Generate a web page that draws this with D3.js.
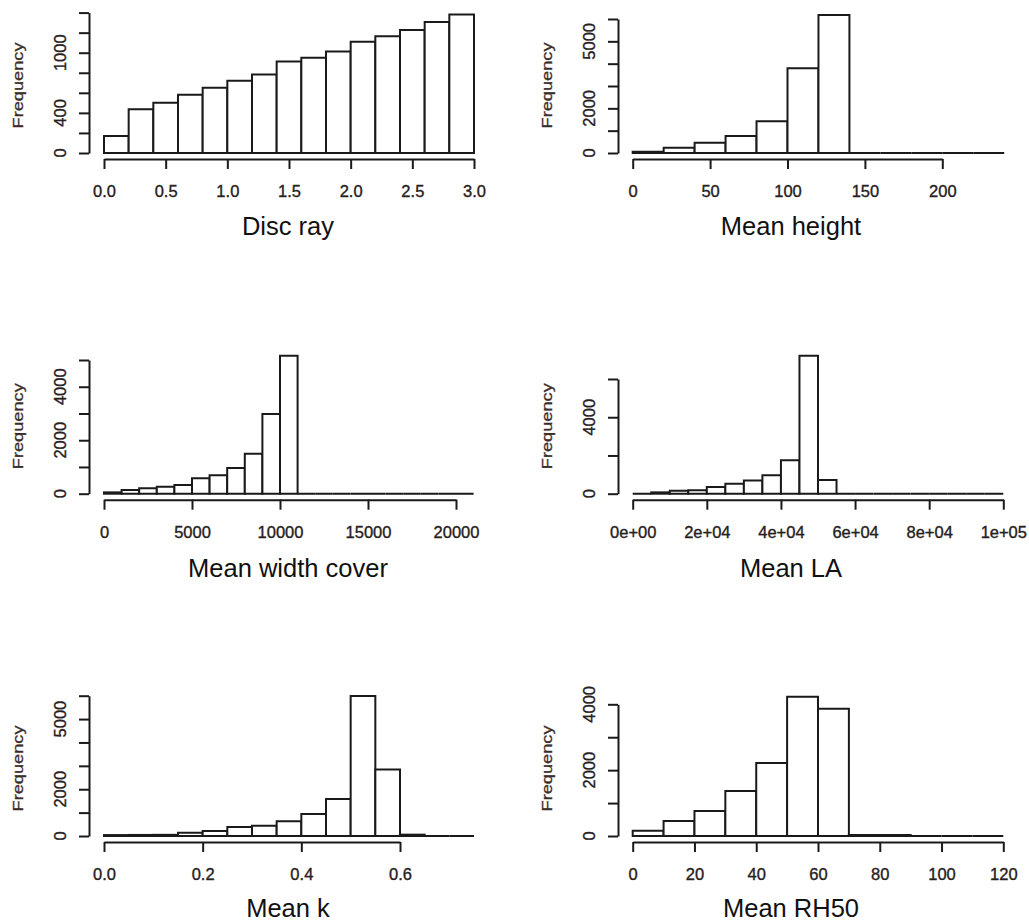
<!DOCTYPE html>
<html>
<head>
<meta charset="utf-8">
<script src="https://cdn.jsdelivr.net/npm/d3@7"></script>
<style>
  html, body { margin: 0; padding: 0; background: #fff; }
  svg { display: block; }
  text { font-family: "Liberation Sans", Arial, sans-serif; }
</style>
</head>
<body>
<svg id="chart" width="1029" height="921"></svg>
<script>
// ---------------- DATA ----------------
// Disc ray
const discRayBreaks = [0, 0.2, 0.4, 0.6, 0.8, 1.0, 1.2, 1.4, 1.6, 1.8, 2.0, 2.2, 2.4, 2.6, 2.8, 3.0];
const discRayCounts = [170, 437, 500, 580, 650, 720, 783, 913, 950, 1013, 1110, 1163, 1227, 1307, 1380];
const discRayXTicks = [0, 0.5, 1.0, 1.5, 2.0, 2.5, 3.0];
const discRayXLabels = ["0.0", "0.5", "1.0", "1.5", "2.0", "2.5", "3.0"];
const discRayYTicks = [0, 200, 400, 600, 800, 1000, 1200, 1400];
const discRayYLabels = ["0", "", "400", "", "", "1000", "", ""];

// Mean height
const meanHeightBreaks = [0, 20, 40, 60, 80, 100, 120, 140, 160, 180, 200, 220, 240];
const meanHeightCounts = [60, 240, 460, 760, 1420, 3790, 6180, 0, 0, 0, 0, 0];
const meanHeightXTicks = [0, 50, 100, 150, 200];
const meanHeightXLabels = ["0", "50", "100", "150", "200"];
const meanHeightYTicks = [0, 1000, 2000, 3000, 4000, 5000, 6000];
const meanHeightYLabels = ["0", "", "2000", "", "", "5000", ""];

// Mean width cover
const meanWidthBreaks = [0, 1000, 2000, 3000, 4000, 5000, 6000, 7000, 8000, 9000, 10000,
  11000, 12000, 13000, 14000, 15000, 16000, 17000, 18000, 19000, 20000, 21000];
const meanWidthCounts = [50, 137, 200, 262, 324, 574, 686, 960, 1496, 2980, 5162,
  0, 0, 0, 0, 0, 0, 0, 0, 0, 0];
const meanWidthXTicks = [0, 5000, 10000, 15000, 20000];
const meanWidthXLabels = ["0", "5000", "10000", "15000", "20000"];
const meanWidthYTicks = [0, 1000, 2000, 3000, 4000, 5000];
const meanWidthYLabels = ["0", "", "2000", "", "4000", ""];

// Mean LA
const meanLABreaks = [0, 5000, 10000, 15000, 20000, 25000, 30000, 35000, 40000, 45000, 50000,
  55000, 60000, 65000, 70000, 75000, 80000, 85000, 90000, 95000, 100000];
const meanLACounts = [0, 70, 157, 174, 349, 523, 697, 959, 1744, 7220, 715,
  0, 0, 0, 0, 0, 0, 0, 0, 0];
const meanLAXTicks = [0, 20000, 40000, 60000, 80000, 100000];
const meanLAXLabels = ["0e+00", "2e+04", "4e+04", "6e+04", "8e+04", "1e+05"];
const meanLAYTicks = [0, 2000, 4000, 6000];
const meanLAYLabels = ["0", "", "4000", ""];

// Mean k
const meanKBreaks = [0, 0.05, 0.10, 0.15, 0.20, 0.25, 0.30, 0.35, 0.40, 0.45, 0.50, 0.55, 0.60, 0.65, 0.70, 0.75];
const meanKCounts = [40, 45, 50, 142, 214, 385, 442, 627, 940, 1581, 5988, 2849, 57, 0, 0];
const meanKXTicks = [0, 0.2, 0.4, 0.6];
const meanKXLabels = ["0.0", "0.2", "0.4", "0.6"];
const meanKYTicks = [0, 1000, 2000, 3000, 4000, 5000, 6000];
const meanKYLabels = ["0", "", "2000", "", "", "5000", ""];

// Mean RH50
const meanRH50Breaks = [0, 10, 20, 30, 40, 50, 60, 70, 80, 90, 100, 110, 120];
const meanRH50Counts = [162, 456, 760, 1367, 2218, 4233, 3868, 30, 30, 0, 0, 0];
const meanRH50XTicks = [0, 20, 40, 60, 80, 100, 120];
const meanRH50XLabels = ["0", "20", "40", "60", "80", "100", "120"];
const meanRH50YTicks = [0, 1000, 2000, 3000, 4000];
const meanRH50YLabels = ["0", "", "2000", "", "4000"];

const panelTitles = ["Disc ray", "Mean height", "Mean width cover", "Mean LA", "Mean k", "Mean RH50"];
const yTitle = "Frequency";

// ---------------- LAYOUT ----------------
const panels = [
  { breaks: discRayBreaks, counts: discRayCounts, xt: discRayXTicks, xl: discRayXLabels, yt: discRayYTicks, yl: discRayYLabels,
    xd: [0, 3], xr: [104, 474], yd: [0, 1400], yr: [153, 12.6], col: 0, base: 153, titleY: 235 },
  { breaks: meanHeightBreaks, counts: meanHeightCounts, xt: meanHeightXTicks, xl: meanHeightXLabels, yt: meanHeightYTicks, yl: meanHeightYLabels,
    xd: [0, 200], xr: [632.7, 942.3], yd: [0, 6000], yr: [153, 19], col: 1, base: 153, titleY: 235 },
  { breaks: meanWidthBreaks, counts: meanWidthCounts, xt: meanWidthXTicks, xl: meanWidthXLabels, yt: meanWidthYTicks, yl: meanWidthYLabels,
    xd: [0, 20000], xr: [104, 456], yd: [0, 5000], yr: [493.7, 360], col: 0, base: 493.7, titleY: 577 },
  { breaks: meanLABreaks, counts: meanLACounts, xt: meanLAXTicks, xl: meanLAXLabels, yt: meanLAYTicks, yl: meanLAYLabels,
    xd: [0, 100000], xr: [632.7, 1003.3], yd: [0, 6000], yr: [493.7, 379], col: 1, base: 493.7, titleY: 577 },
  { breaks: meanKBreaks, counts: meanKCounts, xt: meanKXTicks, xl: meanKXLabels, yt: meanKYTicks, yl: meanKYLabels,
    xd: [0, 0.6], xr: [104, 400], yd: [0, 6000], yr: [836, 695.7], col: 0, base: 836, titleY: 917 },
  { breaks: meanRH50Breaks, counts: meanRH50Counts, xt: meanRH50XTicks, xl: meanRH50XLabels, yt: meanRH50YTicks, yl: meanRH50YLabels,
    xd: [0, 120], xr: [632.7, 1003.3], yd: [0, 4000], yr: [836, 704.3], col: 1, base: 836, titleY: 917 }
];

const colInfo = [
  { yAxisX: 89, titleX: 288, freqX: 23 },
  { yAxisX: 618, titleX: 791, freqX: 552 }
];

const LINE = "#1a1a1a";
const LW = 2;
const TXT = "#262020";
const svg = d3.select("#chart");

panels.forEach((p, i) => {
  const ci = colInfo[p.col];
  const x = d3.scaleLinear().domain(p.xd).range(p.xr);
  const y = d3.scaleLinear().domain(p.yd).range(p.yr);
  const g = svg.append("g");

  // bars (drawn as closed paths so zero-height bins still show as a line)
  const bins = p.counts.map((c, k) => ({ x0: p.breaks[k], x1: p.breaks[k + 1], c }));
  g.selectAll("path.bar").data(bins).enter().append("path")
    .attr("class", "bar")
    .attr("d", d => {
      const xa = x(d.x0), xb = x(d.x1), y0 = y(0), yt = y(d.c);
      return `M${xa},${y0}V${yt}H${xb}V${y0}Z`;
    })
    .attr("fill", "#fff")
    .attr("stroke", LINE)
    .attr("stroke-width", LW)
    .attr("stroke-linejoin", "miter");

  // x axis
  const xAxis = d3.axisBottom(x)
    .tickValues(p.xt)
    .tickFormat((d, k) => p.xl[k])
    .tickSize(10)
    .tickSizeOuter(0)
    .tickPadding(16.5);
  const gx = g.append("g").attr("transform", `translate(0,${p.base + 6})`).call(xAxis);
  gx.select(".domain").attr("stroke", LINE).attr("stroke-width", LW);
  gx.selectAll(".tick line").attr("stroke", LINE).attr("stroke-width", LW);
  gx.selectAll(".tick text").attr("fill", TXT)
    .attr("stroke", TXT).attr("stroke-width", 0.35)
    .style("font-size", "16.5px")
    .style("font-family", "'Liberation Sans', Arial, sans-serif");

  // y axis
  const yAxis = d3.axisLeft(y)
    .tickValues(p.yt)
    .tickFormat("")
    .tickSize(10)
    .tickSizeOuter(0);
  const gy = g.append("g").attr("transform", `translate(${ci.yAxisX},0)`).call(yAxis);
  gy.select(".domain").attr("stroke", LINE).attr("stroke-width", LW);
  gy.selectAll(".tick line").attr("stroke", LINE).attr("stroke-width", LW);

  // rotated y tick labels
  g.selectAll("text.ylab").data(p.yt.map((v, k) => ({ v, l: p.yl[k] })).filter(d => d.l !== ""))
    .enter().append("text")
    .attr("class", "ylab")
    .attr("transform", d => `translate(${ci.yAxisX - 23},${y(d.v)}) rotate(-90)`)
    .attr("text-anchor", "middle")
    .attr("fill", TXT)
    .attr("stroke", TXT).attr("stroke-width", 0.35)
    .style("font-size", "16.5px")
    .text(d => d.l);

  // Frequency label
  g.append("text")
    .attr("transform", `translate(${ci.freqX},${p.base - 67.5}) rotate(-90)`)
    .attr("text-anchor", "middle")
    .attr("fill", "#3a2c28")
    .attr("stroke", "#3a2c28").attr("stroke-width", 0.3)
    .attr("textLength", 86)
    .attr("lengthAdjust", "spacingAndGlyphs")
    .style("font-size", "15px")
    .text(yTitle);

  // panel title
  g.append("text")
    .attr("x", ci.titleX)
    .attr("y", p.titleY)
    .attr("text-anchor", "middle")
    .attr("fill", "#111")
    .style("font-size", "25.5px")
    .text(panelTitles[i]);
});
</script>
</body>
</html>
